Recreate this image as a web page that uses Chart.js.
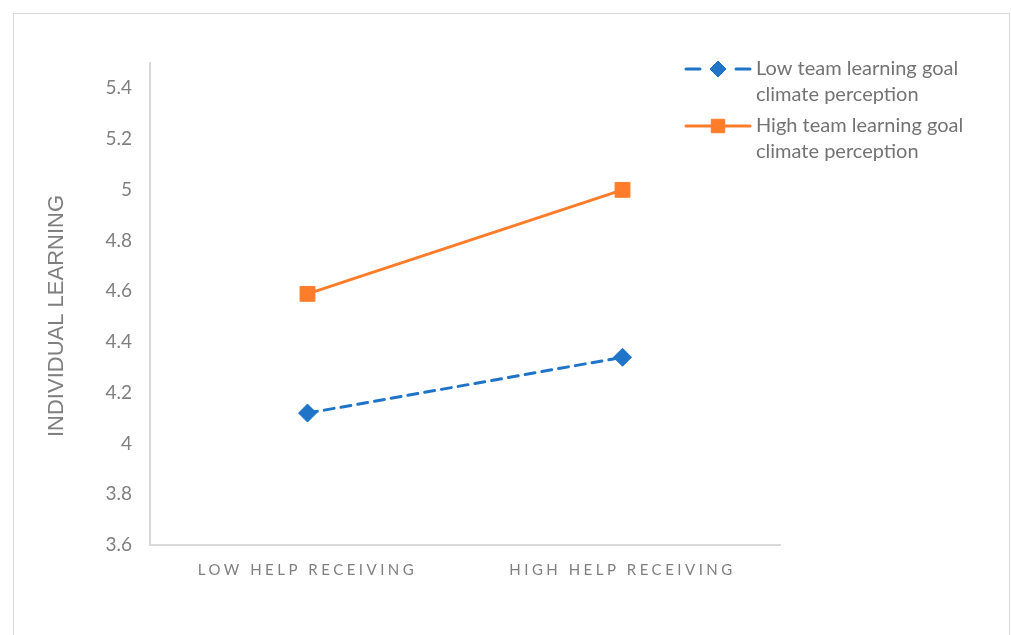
<!DOCTYPE html>
<html>
<head>
<meta charset="utf-8">
<script src="https://cdn.jsdelivr.net/npm/chart.js@4.4.1/dist/chart.umd.min.js"></script>
<style>
  html, body { margin: 0; padding: 0; background: #fff; }
  #frame { position: absolute; left: 13px; top: 13px; width: 995px; height: 640px; border: 1px solid #d9d9d9; }
  #frame canvas { display: block; }
</style>
</head>
<body>
<div id="frame"><canvas id="myChart" width="995" height="630"></canvas></div>
<script>
var categories = ['LOW HELP RECEIVING', 'HIGH HELP RECEIVING'];
var lowClimate = [4.12, 4.34];
var highClimate = [4.59, 5.00];
var seriesNames = ['Low team learning goal climate perception', 'High team learning goal climate perception'];
var yTicks = [3.6, 3.8, 4, 4.2, 4.4, 4.6, 4.8, 5, 5.2, 5.4];

var blue = '#1f74c8';
var orange = '#ff7d2a';
var grey = '#7f7f7f';

// draws a marker like the ones on the lines
function drawMarker(ctx, style, r, x, y, color) {
    ctx.save();
    ctx.fillStyle = color;
    ctx.strokeStyle = color;
    ctx.lineWidth = 1;
    ctx.setLineDash([]);
    ctx.beginPath();
    if (style === 'rectRot') {
        ctx.moveTo(x - r, y);
        ctx.lineTo(x, y - r);
        ctx.lineTo(x + r, y);
        ctx.lineTo(x, y + r);
        ctx.closePath();
    } else {
        var s = Math.SQRT1_2 * r;
        ctx.rect(x - s, y - s, 2 * s, 2 * s);
    }
    ctx.fill();
    ctx.stroke();
    ctx.restore();
}

// excel style legend: line sample with marker, wrapped text
var sideLegend = {
    id: 'sideLegend',
    afterDraw: function(chart) {
        var ctx = chart.ctx;
        var x0 = 672, x1 = 736, tx = 742;
        var top = 55, step = 57, lineH = 26;
        ctx.save();
        ctx.font = '20px Lato';
        ctx.textBaseline = 'middle';
        ctx.textAlign = 'left';
        chart.data.datasets.forEach(function(ds, i) {
            var y = top + i * step;
            ctx.save();
            ctx.strokeStyle = ds.borderColor;
            ctx.lineWidth = ds.borderWidth;
            ctx.lineCap = 'round';
            ctx.setLineDash(ds.borderDash && ds.borderDash.length ? [14, 36] : []);
            ctx.beginPath();
            ctx.moveTo(x0, y);
            ctx.lineTo(x1, y);
            ctx.stroke();
            ctx.restore();
            drawMarker(ctx, ds.pointStyle, ds.pointRadius - 1, (x0 + x1) / 2, y, ds.borderColor);

            // wrap label into lines
            var words = ds.label.split(' ');
            var lines = [], cur = '';
            words.forEach(function(w) {
                var t = cur ? cur + ' ' + w : w;
                if (ctx.measureText(t).width > 225 && cur) { lines.push(cur); cur = w; }
                else cur = t;
            });
            lines.push(cur);
            ctx.fillStyle = '#737373';
            lines.forEach(function(l, j) { ctx.fillText(l, tx, y + j * lineH); });
        });
        ctx.restore();
    }
};

// letter spaced category labels, axis title nudged down a little
var axisTweaks = {
    id: 'axisTweaks',
    afterUpdate: function(chart) {
        var xs = chart.scales.x, ys = chart.scales.y;
        if (xs && !xs._spaced) {
            var origLabels = xs.drawLabels;
            xs.drawLabels = function(area) {
                this.ctx.letterSpacing = '3.5px';
                origLabels.call(this, area);
                this.ctx.letterSpacing = '0px';
            };
            xs._spaced = true;
        }
        if (ys && !ys._nudged) {
            var origTitle = ys.drawTitle;
            ys.drawTitle = function() {
                this.ctx.save();
                this.ctx.translate(0, 12);
                origTitle.call(this);
                this.ctx.restore();
            };
            ys._nudged = true;
        }
    }
};

var ctx = document.getElementById('myChart');
var chart = new Chart(ctx, {
    type: 'line',
    data: {
        labels: categories,
        datasets: [{
            label: seriesNames[0],
            data: lowClimate,
            borderColor: blue,
            backgroundColor: blue,
            borderWidth: 3,
            borderDash: [10, 7],
            borderCapStyle: 'round',
            pointStyle: 'rectRot',
            pointRadius: 9,
            pointBorderWidth: 1,
            pointBackgroundColor: blue,
            pointBorderColor: blue
        }, {
            label: seriesNames[1],
            data: highClimate,
            borderColor: orange,
            backgroundColor: orange,
            borderWidth: 3,
            borderCapStyle: 'round',
            pointStyle: 'rect',
            pointRadius: 10.5,
            pointBorderWidth: 1,
            pointBackgroundColor: orange,
            pointBorderColor: orange
        }]
    },
    options: {
        responsive: false,
        animation: false,
        layout: { padding: { left: 0, top: 49, right: 229, bottom: 0 } },
        plugins: {
            legend: { display: false },
            tooltip: { enabled: false }
        },
        scales: {
            x: {
                offset: true,
                grid: { display: false, drawTicks: false },
                border: { display: true, color: '#d9d9d9', width: 2 },
                ticks: { color: grey, font: { family: 'Lato', size: 15 }, padding: 16, maxRotation: 0 },
                afterFit: function(s) { s.height = 99; }
            },
            y: {
                min: 3.6,
                max: 5.5,
                grid: { display: false, drawTicks: false },
                border: { display: true, color: '#d9d9d9', width: 2 },
                afterBuildTicks: function(s) {
                    s.ticks = yTicks.map(function(v) { return { value: v }; });
                },
                ticks: {
                    color: grey,
                    font: { family: 'Lato', size: 19 },
                    padding: 18,
                    callback: function(v) { return String(Math.round(v * 10) / 10); }
                },
                title: {
                    display: true,
                    text: 'INDIVIDUAL LEARNING',
                    color: grey,
                    font: { family: 'Liberation Sans', size: 22 },
                    padding: { top: 30, bottom: 0 }
                },
                afterFit: function(s) { s.width = 136; }
            }
        }
    },
    plugins: [sideLegend, axisTweaks]
});
</script>
</body>
</html>
